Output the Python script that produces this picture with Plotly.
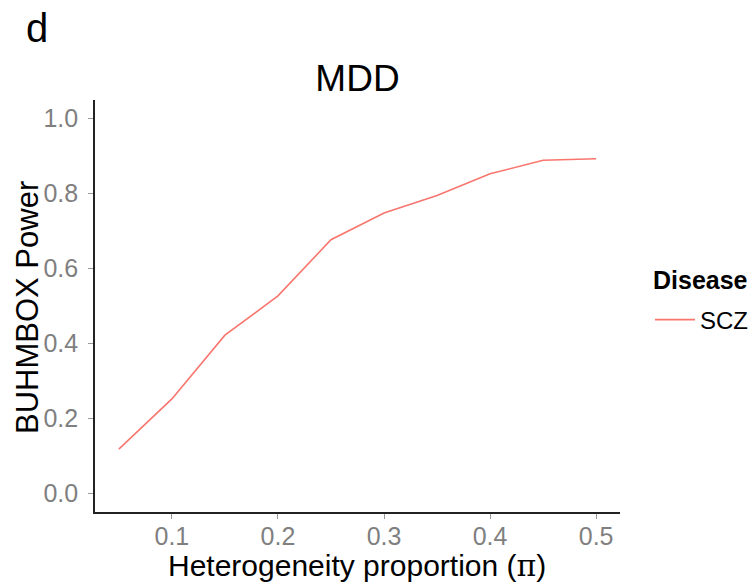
import plotly.graph_objects as go

# Data
pi_values = [0.05, 0.10, 0.15, 0.20, 0.25, 0.30, 0.35, 0.40, 0.45, 0.50]
power_scz = [0.118, 0.252, 0.422, 0.527, 0.677, 0.748, 0.795, 0.853, 0.889, 0.893]
x_ticks = [0.1, 0.2, 0.3, 0.4, 0.5]
y_ticks = [0.0, 0.2, 0.4, 0.6, 0.8, 1.0]
series_name = "SCZ"
legend_title = "Disease"
x_title = "Heterogeneity proportion (<span style='font-family:DejaVu Serif'>π</span>)"
y_title = "BUHMBOX Power"

FONT = "Liberation Sans, Arial, Helvetica, sans-serif"
TICK_GREY = "#7f7f7f"

L, R, T, B = 95, 132, 100, 72
PW, PH = 752 - L - R, 584 - T - B


def px_x(px):
    return (px - L) / PW


def px_y(py):
    return (T + PH - py) / PH


fig = go.Figure()
fig.add_trace(go.Scatter(
    x=pi_values, y=power_scz, mode="lines", name=series_name,
    line=dict(color="#F8766D", width=1.6),
    showlegend=True,
))

fig.update_layout(
    width=752, height=584,
    margin=dict(l=L, r=R, t=T, b=B, autoexpand=False),
    paper_bgcolor="white", plot_bgcolor="white",
    font=dict(family=FONT, color="black"),
    title=dict(text="MDD", x=(L + L + PW) / 2 / 752, xanchor="center",
               y=1 - 78 / 584, yanchor="middle",
               font=dict(size=37, color="black", family=FONT)),
    legend=dict(
        font=dict(size=24, color="black", family=FONT),
        x=px_x(650), xanchor="left", y=px_y(320), yanchor="middle",
        bgcolor="rgba(0,0,0,0)", itemwidth=40,
    ),
    xaxis=dict(
        range=[0.0275, 0.5225], tickvals=x_ticks, tickformat=".1f",
        showgrid=False, zeroline=False, automargin=False,
        showline=True, linecolor="#222222", linewidth=1.6,
        ticks="outside", ticklen=5, tickcolor="#999999", tickwidth=1.2,
        ticklabelstandoff=-4,
        tickfont=dict(size=25, color=TICK_GREY, family=FONT),
    ),
    yaxis=dict(
        range=[-0.05, 1.05], tickvals=y_ticks, tickformat=".1f",
        showgrid=False, zeroline=False, automargin=False,
        showline=True, linecolor="#222222", linewidth=1.6,
        ticks="outside", ticklen=5, tickcolor="#999999", tickwidth=1.2,
        ticklabelstandoff=5,
        tickfont=dict(size=25, color=TICK_GREY, family=FONT),
    ),
)

fig.add_annotation(text=x_title, xref="paper", yref="paper",
                   x=px_x(357), y=px_y(565), xanchor="center", yanchor="middle",
                   showarrow=False, font=dict(size=30, color="black", family=FONT))

fig.add_annotation(text=y_title, xref="paper", yref="paper", textangle=-90,
                   x=px_x(27), y=px_y(308), xanchor="center", yanchor="middle",
                   showarrow=False, font=dict(size=31, color="black", family=FONT))

fig.add_annotation(text="<b>" + legend_title + "</b>", xref="paper", yref="paper",
                   x=px_x(651), y=px_y(280),
                   xanchor="left", yanchor="middle", showarrow=False,
                   font=dict(size=25, color="black", family=FONT))

fig.add_annotation(text="d", xref="paper", yref="paper",
                   x=px_x(24), y=px_y(28),
                   xanchor="left", yanchor="middle", showarrow=False,
                   font=dict(size=40, color="black", family=FONT))

fig.write_html("out.html", config={"displayModeBar": False},
               post_script="document.body.style.margin='0px';")
